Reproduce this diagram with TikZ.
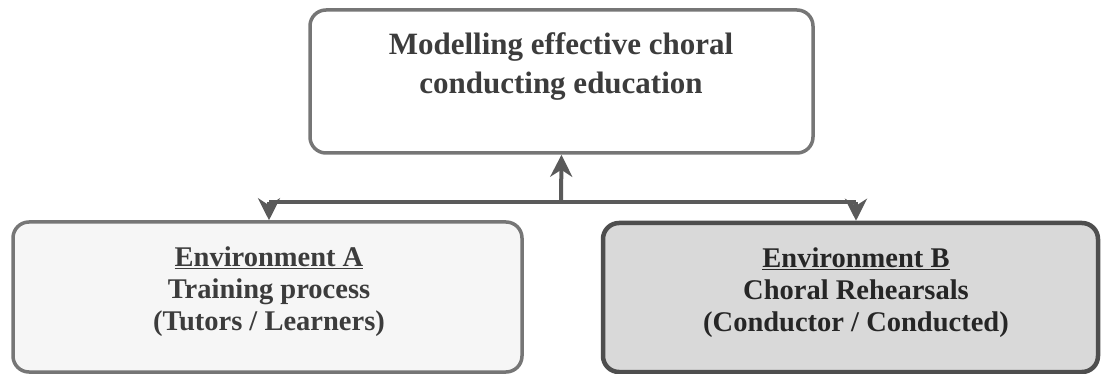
\documentclass[tikz,border=0pt]{standalone}
\usepackage{fontspec}
\setmainfont{Liberation Serif}
\usetikzlibrary{arrows.meta}
\definecolor{edgegray}{HTML}{767676}
\definecolor{darkedge}{HTML}{4E4E4E}
\definecolor{linkgray}{HTML}{5A5A5A}
\definecolor{textgray}{HTML}{3C3C3C}
\definecolor{envAfill}{HTML}{F6F6F6}
\definecolor{envBfill}{HTML}{D9D9D9}

\begin{document}
\begin{tikzpicture}[x=1pt,y=-1pt,
box/.style={draw=edgegray, line width=3.5pt, rounded corners=16pt, inner sep=0pt},
title/.style={font=\bfseries\fontsize{28.5}{32}\selectfont, align=center, text=textgray},
link/.style={draw=linkgray, line width=4pt},
tip/.style={-{Stealth[length=22pt,width=22pt,inset=7pt]}}]
\useasboundingbox (0,0) rectangle (1101,374);
% goal
\node[box, fill=white, minimum width=503pt, minimum height=143pt] (goal) at (561.5,81.5) {};
\node[title, font=\bfseries\fontsize{31}{39}\selectfont] (goaltext) at (561,67) {Modelling effective choral\\conducting education};
% environments
\node[box, fill=envAfill, minimum width=509pt, minimum height=150pt] (envA) at (267.5,297) {};
\node[title] (envAtext) at (269,292) {\underline{Environment A}\\Training process\\(Tutors / Learners)};
\node[box, draw=darkedge, line width=4.5pt, fill=envBfill, minimum width=495pt, minimum height=149pt] (envB) at (850.5,297.5) {};
\node[title, text=black!85] (envBtext) at (856,293) {\underline{Environment B}\\Choral Rehearsals\\(Conductor / Conducted)};
% links
\coordinate (hubA) at (269,202);
\coordinate (hubB) at (856,202);
\coordinate (hub) at (561,202);
\draw[link] (hubA) -- (hubB);
\draw[link,tip] (hub) -- (goal.south);
\draw[link,tip] (hubA) -- (hubA |- envA.north);
\draw[link,tip] (hubB) -- (hubB |- envB.north);
\end{tikzpicture}
\end{document}
